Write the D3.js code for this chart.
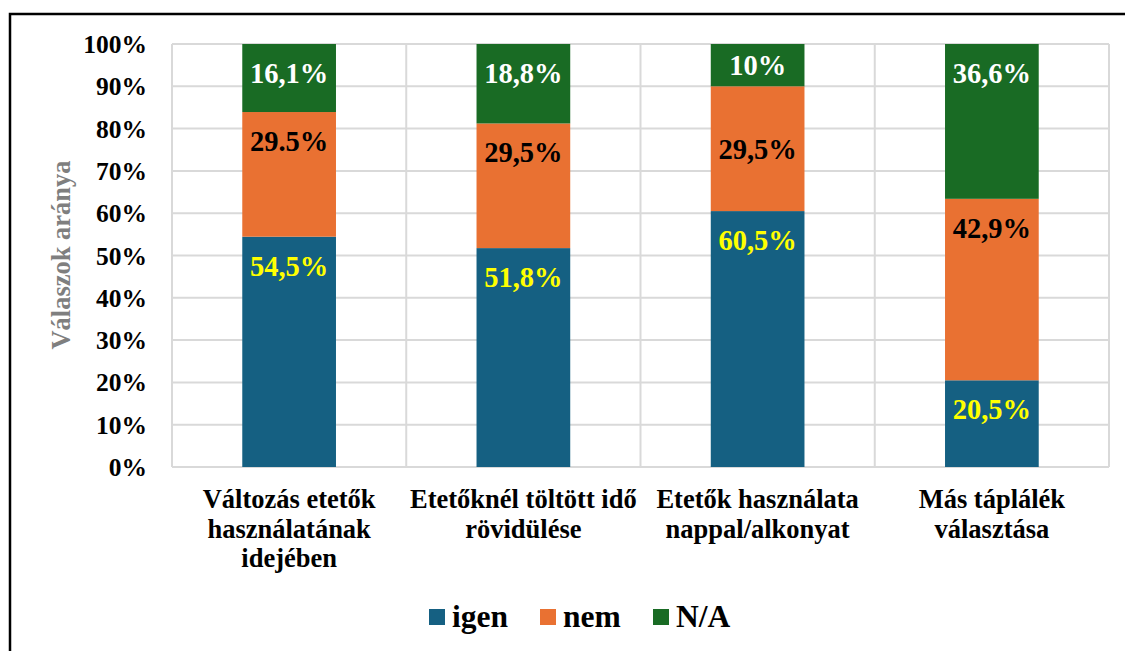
<!DOCTYPE html>
<html>
<head>
<meta charset="utf-8">
<script src="https://cdn.jsdelivr.net/npm/d3@7"></script>
<style>
  body { margin: 0; background: #fff; }
</style>
</head>
<body>
<script>
// categories and series (percent)
const categories = [
  ["Változás etetők", "használatának", "idejében"],
  ["Etetőknél töltött idő", "rövidülése"],
  ["Etetők használata", "nappal/alkonyat"],
  ["Más táplálék", "választása"]
]
const igen = [54.5, 51.8, 60.5, 20.5]
const nem = [29.5, 29.5, 29.5, 42.9]
const na = [16.1, 18.8, 10, 36.6]
const igenLabels = ["54,5%", "51,8%", "60,5%", "20,5%"]
const nemLabels = ["29.5%", "29,5%", "29,5%", "42,9%"]
const naLabels = ["16,1%", "18,8%", "10%", "36,6%"]
// label placement inside each segment ("end" = near top, "center")
const igenPlace = ["end", "end", "end", "end"]
const nemPlace = ["end", "end", "center", "end"]
const naPlace = ["end", "end", "center", "end"]
const seriesNames = ["igen", "nem", "N/A"]
const colors = ["#156082", "#e97132", "#196b24"]
const labelColors = ["#ffff00", "#000000", "#ffffff"]
const yTicks = [0, 10, 20, 30, 40, 50, 60, 70, 80, 90, 100]

const W = 1125, H = 651
const m = {left: 172, top: 44, right: 1109, bottom: 467}

let svg = d3.select('body').append('svg')
  .attr("width", W).attr("height", H)
  .style("font-family", '"Liberation Serif", "Times New Roman", serif')
  .style("font-weight", "bold")

// outer frame (only top and left are visible in the crop)
svg.append("rect")
  .attr("x", 10).attr("y", 14)
  .attr("width", W + 20).attr("height", H + 20)
  .attr("fill", "none").attr("stroke", "#000").attr("stroke-width", 2.5)

let x = d3.scaleBand().domain(d3.range(categories.length))
  .range([m.left, m.right]).paddingInner(0.6).paddingOuter(0.3)
let xCat = d3.scaleBand().domain(d3.range(categories.length))
  .range([m.left, m.right])
let y = d3.scaleLinear().domain([0, 100]).range([m.bottom, m.top])

// grid lines
svg.append("g").selectAll("line").data(yTicks).enter()
  .append("line")
  .attr("x1", m.left).attr("x2", m.right)
  .attr("y1", d => y(d)).attr("y2", d => y(d))
  .attr("stroke", "#d9d9d9").attr("stroke-width", 2)

// vertical category separators
svg.append("g").selectAll("line").data(d3.range(categories.length + 1)).enter()
  .append("line")
  .attr("x1", d => m.left + d * xCat.bandwidth())
  .attr("x2", d => m.left + d * xCat.bandwidth())
  .attr("y1", m.top).attr("y2", m.bottom)
  .attr("stroke", "#d9d9d9").attr("stroke-width", 2)

// stacked data, normalised to 100%
let rows = categories.map((c, i) => {
  let total = igen[i] + nem[i] + na[i]
  return {i: i, s0: igen[i] / total * 100, s1: nem[i] / total * 100, s2: na[i] / total * 100}
})
let stack = d3.stack().keys(["s0", "s1", "s2"])(rows)
let allLabels = [igenLabels, nemLabels, naLabels]
let allPlace = [igenPlace, nemPlace, naPlace]

stack.forEach((layer, k) => {
  svg.append("g").selectAll("rect").data(layer).enter()
    .append("rect")
    .attr("x", d => x(d.data.i))
    .attr("width", x.bandwidth())
    .attr("y", d => y(d[1]))
    .attr("height", d => y(d[0]) - y(d[1]))
    .attr("fill", colors[k])

  svg.append("g").selectAll("text").data(layer).enter()
    .append("text")
    .attr("x", d => x(d.data.i) + x.bandwidth() / 2)
    .attr("y", d => allPlace[k][d.data.i] == "center"
      ? (y(d[0]) + y(d[1])) / 2 + 10
      : y(d[1]) + 39)
    .attr("text-anchor", "middle")
    .attr("font-size", 28.5)
    .attr("fill", labelColors[k])
    .text(d => allLabels[k][d.data.i])
})

// y axis tick labels
svg.append("g").selectAll("text").data(yTicks).enter()
  .append("text")
  .attr("x", 147)
  .attr("y", d => y(d) + 9)
  .attr("text-anchor", "end")
  .attr("font-size", 25.5)
  .text(d => d + "%")

// y axis title
svg.append("text")
  .attr("transform", "translate(70,255) rotate(-90)")
  .attr("text-anchor", "middle")
  .attr("font-size", 26.5)
  .attr("fill", "#7f7f7f")
  .text("Válaszok aránya")

// category labels
categories.forEach((lines, i) => {
  svg.append("text")
    .attr("x", xCat(i) + xCat.bandwidth() / 2)
    .attr("y", 508)
    .attr("text-anchor", "middle")
    .attr("font-size", 26.5)
    .selectAll("tspan").data(lines).enter()
    .append("tspan")
    .attr("x", xCat(i) + xCat.bandwidth() / 2)
    .attr("dy", (d, j) => j == 0 ? 0 : 29.5)
    .text(d => d)
})

// legend
let legendX = [429, 540, 653]
seriesNames.forEach((name, k) => {
  svg.append("rect")
    .attr("x", legendX[k]).attr("y", 609)
    .attr("width", 16).attr("height", 16)
    .attr("fill", colors[k])
  svg.append("text")
    .attr("x", legendX[k] + 23).attr("y", 627)
    .attr("font-size", 31.5)
    .text(name)
})
</script>
</body>
</html>
